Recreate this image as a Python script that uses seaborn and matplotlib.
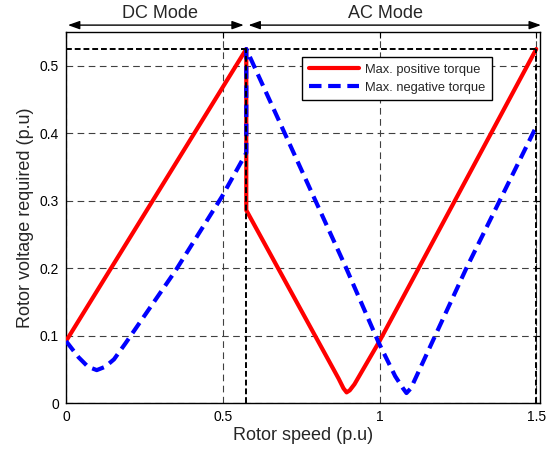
import matplotlib
matplotlib.use("Agg")
import matplotlib.pyplot as plt
import matplotlib.transforms as mtransforms
import seaborn as sns
import numpy as np

# ---- data ----
x_pos = [0.0, 0.575, 0.575, 0.87, 0.885, 0.895, 0.905, 0.92, 1.0, 1.5]
v_pos = [0.092, 0.525, 0.286, 0.036, 0.022, 0.016, 0.019, 0.028, 0.092, 0.525]

x_neg = [0.0, 0.04, 0.07, 0.098, 0.125, 0.153, 0.19, 0.35, 0.497, 0.575, 0.575,
         0.892, 0.997, 1.05, 1.075, 1.086, 1.10, 1.277, 1.5]
v_neg = [0.092, 0.068, 0.054, 0.049, 0.054, 0.065, 0.089, 0.197, 0.306, 0.371, 0.525,
         0.202, 0.09, 0.04, 0.022, 0.015, 0.022, 0.2, 0.41]

label_pos = "Max. positive torque"
label_neg = "Max. negative torque"
x_ticks = [0, 0.5, 1, 1.5]
x_ticklabels = ["0", "0.5", "1", "1.5"]
y_ticks = [0, 0.1, 0.2, 0.3, 0.4, 0.5]
y_ticklabels = ["0", "0.1", "0.2", "0.3", "0.4", "0.5"]
v_max = 0.525
x_switch = 0.575
x_end = 1.5

sns.set_style("white")
plt.rcParams["font.family"] = ["Liberation Sans", "DejaVu Sans"]

fig = plt.figure(figsize=(5.55, 4.53), dpi=100)
ax = fig.add_axes([0.119, 0.110, 0.854, 0.819])

sns.lineplot(x=x_pos, y=v_pos, sort=False, estimator=None, ax=ax,
             color="#ff0000", lw=3, label=label_pos, zorder=3)
sns.lineplot(x=x_neg, y=v_neg, sort=False, estimator=None, ax=ax,
             color="#0000ff", lw=3, label=label_neg, zorder=4)
ax.lines[1].set_dashes((3, 1.6))

# thick black reference dashed lines
dkw = dict(color="black", lw=1.4, dashes=(3, 1.5), zorder=5)
ax.plot([0, x_end], [v_max, v_max], **dkw)
ax.plot([x_switch, x_switch], [0, v_max], **dkw)
ax.plot([x_end, x_end], [0, v_max], **dkw)

ax.set_xlim(0, 1.512)
ax.set_ylim(0, 0.55)
ax.set_xticks(x_ticks)
ax.set_xticklabels(x_ticklabels)
ax.set_yticks(y_ticks)
ax.set_yticklabels(y_ticklabels)
ax.tick_params(direction="in", length=4, width=0.8, top=True, right=True,
               labelsize=10, colors="black", pad=5)
ax.grid(True, linestyle=(0, (6, 4)), color="0.25", lw=0.8)
for s in ax.spines.values():
    s.set_visible(True)
    s.set_color("black")
    s.set_linewidth(1.0)

ax.set_xlabel("Rotor speed (p.u)", fontsize=13, labelpad=2)
ax.set_ylabel("Rotor voltage required (p.u)", fontsize=13, labelpad=4)

leg = ax.legend(loc="upper right", bbox_to_anchor=(0.899, 0.933),
                borderaxespad=0, fontsize=9.3, handlelength=3.9, frameon=True,
                fancybox=False, borderpad=0.5, labelspacing=0.5, handletextpad=0.5)
leg.get_frame().set_edgecolor("black")
leg.get_frame().set_linewidth(1.0)
leg.get_frame().set_alpha(1)

# mode annotations above the axes
trans = mtransforms.blended_transform_factory(ax.transData, ax.transAxes)
akw = dict(arrowstyle="<|-|>,head_length=0.7,head_width=0.25", color="black",
           lw=1.0, shrinkA=0, shrinkB=0)
ax.annotate("", xy=(0.006, 1.019), xytext=(0.567, 1.019), xycoords=trans,
            textcoords=trans, arrowprops=akw, annotation_clip=False)
ax.annotate("", xy=(0.582, 1.019), xytext=(1.515, 1.019), xycoords=trans,
            textcoords=trans, arrowprops=akw, annotation_clip=False)
ax.text(0.30, 1.05, "DC Mode", transform=trans, ha="center", va="center", fontsize=13)
ax.text(1.02, 1.05, "AC Mode", transform=trans, ha="center", va="center", fontsize=13)

fig.savefig("out.png", dpi=100)
